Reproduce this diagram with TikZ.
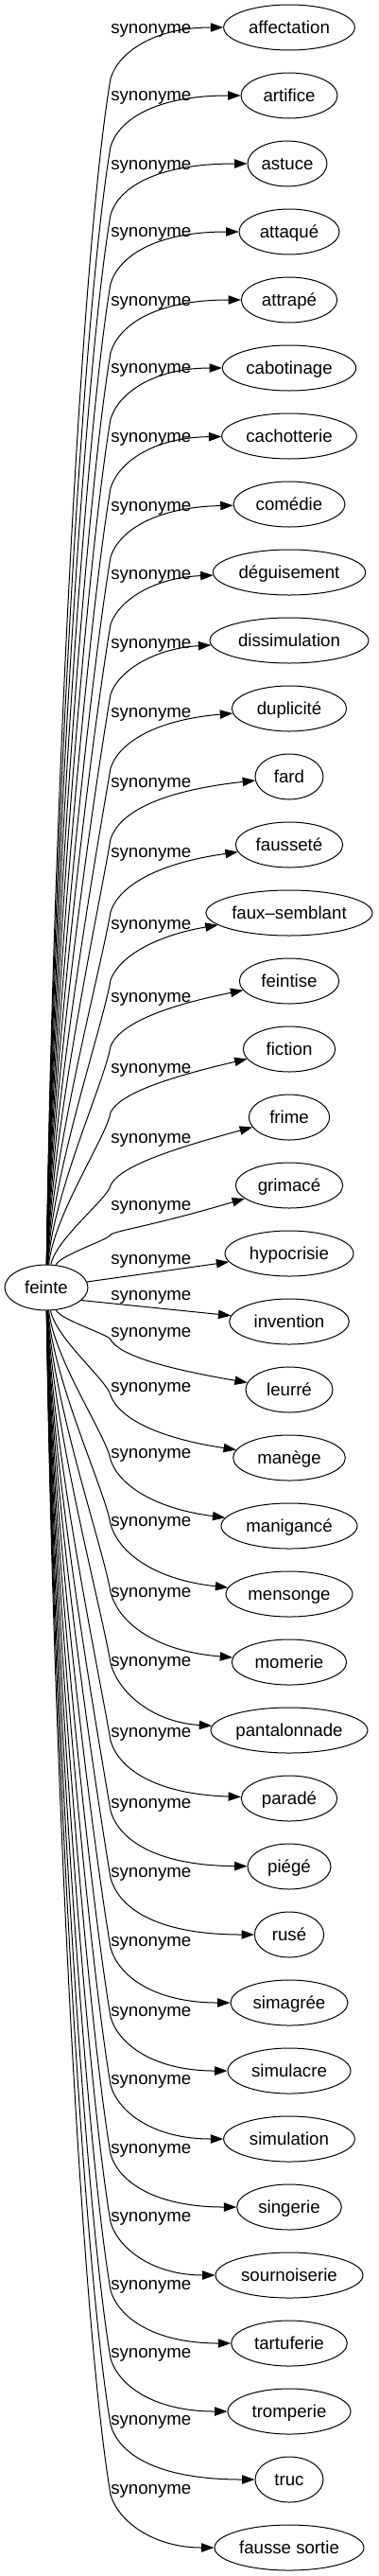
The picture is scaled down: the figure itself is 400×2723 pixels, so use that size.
\documentclass[tikz,border=0pt]{standalone}
\usepackage{fontspec}
\setmainfont{Liberation Sans}
\usetikzlibrary{arrows.meta,shapes.geometric}

\begin{document}
\begin{tikzpicture}[x=0.75pt, y=-0.75pt,
  font=\fontsize{14pt}{17pt}\selectfont,
  mot/.style={ellipse, draw, line width=0.75pt, inner sep=0pt, minimum height=36pt, text height=11pt, text depth=2pt},
  syn/.style={-{Triangle[length=10pt,width=7pt]}, line width=0.75pt},
  etiq/.style={anchor=west, inner sep=0pt, text height=11pt, text depth=2pt}]
  \useasboundingbox (0,0) rectangle (400,2723);

  % Nodos
  \node[mot, minimum width=66pt] (feinte) at (49,1361) {feinte};

  \node[mot, minimum width=104pt] (affectation) at (306,29) {affectation};
  \node[mot, minimum width=76.5pt] (artifice) at (306,101) {artifice};
  \node[mot, minimum width=63pt] (astuce) at (304,173) {astuce};
  \node[mot, minimum width=79.5pt] (attaque) at (306,245) {attaqué};
  \node[mot, minimum width=76pt] (attrape) at (306,317) {attrapé};
  \node[mot, minimum width=106pt] (cabotinage) at (306,389) {cabotinage};
  \node[mot, minimum width=107pt] (cachotterie) at (306,461) {cachotterie};
  \node[mot, minimum width=88.5pt] (comedie) at (306,533) {comédie};
  \node[mot, minimum width=121pt] (deguisement) at (306,605) {déguisement};
  \node[mot, minimum width=126pt] (dissimulation) at (306,677) {dissimulation};
  \node[mot, minimum width=91pt] (duplicite) at (306,749) {duplicité};
  \node[mot, minimum width=54pt] (fard) at (306,821) {fard};
  \node[mot, minimum width=85pt] (faussete) at (306,893) {fausseté};
  \node[mot, minimum width=132pt] (fauxsemblant) at (306,965) {faux–semblant};
  \node[mot, minimum width=79pt] (feintise) at (306,1037) {feintise};
  \node[mot, minimum width=73pt] (fiction) at (306,1109) {fiction};
  \node[mot, minimum width=64pt] (frime) at (306,1181) {frime};
  \node[mot, minimum width=85pt] (grimace) at (306,1253) {grimacé};
  \node[mot, minimum width=102pt] (hypocrisie) at (306,1325) {hypocrisie};
  \node[mot, minimum width=95pt] (invention) at (306,1397) {invention};
  \node[mot, minimum width=69pt] (leurre) at (306,1469) {leurré};
  \node[mot, minimum width=89pt] (manege) at (306,1541) {manège};
  \node[mot, minimum width=108pt] (manigance) at (306,1613) {manigancé};
  \node[mot, minimum width=100.5pt] (mensonge) at (306,1685) {mensonge};
  \node[mot, minimum width=91pt] (momerie) at (306,1757) {momerie};
  \node[mot, minimum width=124.5pt] (pantalonnade) at (306,1829) {pantalonnade};
  \node[mot, minimum width=76pt] (parade) at (306,1901) {paradé};
  \node[mot, minimum width=66pt] (piege) at (306,1973) {piégé};
  \node[mot, minimum width=55pt] (ruse) at (306,2045) {rusé};
  \node[mot, minimum width=93pt] (simagree) at (306,2117) {simagrée};
  \node[mot, minimum width=97.5pt] (simulacre) at (306,2189) {simulacre};
  \node[mot, minimum width=104pt] (simulation) at (306,2261) {simulation};
  \node[mot, minimum width=83pt] (singerie) at (306,2333) {singerie};
  \node[mot, minimum width=117pt] (sournoiserie) at (306,2405) {sournoiserie};
  \node[mot, minimum width=92pt] (tartuferie) at (306,2477) {tartuferie};
  \node[mot, minimum width=97.5pt] (tromperie) at (306,2549) {tromperie};
  \node[mot, minimum width=54pt] (truc) at (306,2621) {truc};
  \node[mot, minimum width=118.5pt] (faussesortie) at (306,2693) {fausse sortie};

  % Aristas hacia arriba (destino / etiqueta / codo)
  \foreach \cible/\ly/\dd [count=\i from 0] in {affectation/29/54, artifice/100/54, astuce/173/54, attaque/244/55, attrape/317/56, cabotinage/388/54, cachotterie/461/55, comedie/534/56, deguisement/606/55, dissimulation/679/57, duplicite/752/63, fard/826/66, faussete/900/71, fauxsemblant/976/71, feintise/1053/69, fiction/1128/67, frime/1202/72, grimace/1273/52} {
    \pgfmathsetmacro\yn{29+72*\i}
    \pgfmathsetmacro\yb{\yn+\dd}
    \pgfmathsetmacro\lg{1337-\yb}
    \pgfmathsetmacro\xa{54+600/(\lg+30)}
    \pgfmathsetmacro\mm{max(0,1-\lg/900)}
    \pgfmathsetmacro\kk{45*\mm*sqrt(\mm)}
    \draw[syn] (feinte) .. controls (\xa,1337-0.33*\lg) and (117-0.027*\lg,\yb+0.16*\lg) .. (117,\yb)
      .. controls (125,\yb-0.5*\dd+0.5*\kk) and (162,\yn+\kk) .. (\cible);
    \node[etiq] (s\i) at (117,\ly) {synonyme};
  }

  % Aristas casi rectas
  \draw[syn] (feinte) -- (hypocrisie);
  \node[etiq] (s18) at (117,1330) {synonyme};
  \draw[syn] (feinte.-20) -- (invention);
  \node[etiq] (s19) at (117,1368) {synonyme};

  % Aristas hacia abajo (destino / etiqueta / codo)
  \foreach \cible/\ly/\dd [count=\i from 20] in {leurre/1407/53, manege/1465/66, manigance/1535/70, mensonge/1607/74, momerie/1682/74, pantalonnade/1755/71, parade/1830/61, piege/1905/59, ruse/1978/60, simagree/2051/58, simulacre/2125/57, simulation/2197/57, singerie/2270/56, sournoiserie/2342/56, tartuferie/2414/56, tromperie/2486/56, truc/2557/58, faussesortie/2630/56} {
    \pgfmathsetmacro\yn{29+72*\i}
    \pgfmathsetmacro\yb{\yn-\dd}
    \pgfmathsetmacro\lg{\yb-1385}
    \pgfmathsetmacro\xa{54+600/(\lg+30)}
    \pgfmathsetmacro\kk{26*max(0,1-\lg/550)}
    \draw[syn] (feinte) .. controls (\xa,1385+0.33*\lg) and (117-0.027*\lg,\yb-0.16*\lg) .. (117,\yb)
      .. controls (125,\yb+0.5*\dd-0.5*\kk) and (162,\yn-\kk) .. (\cible);
    \node[etiq] (s\i) at (117,\ly) {synonyme};
  }
\end{tikzpicture}
\end{document}
